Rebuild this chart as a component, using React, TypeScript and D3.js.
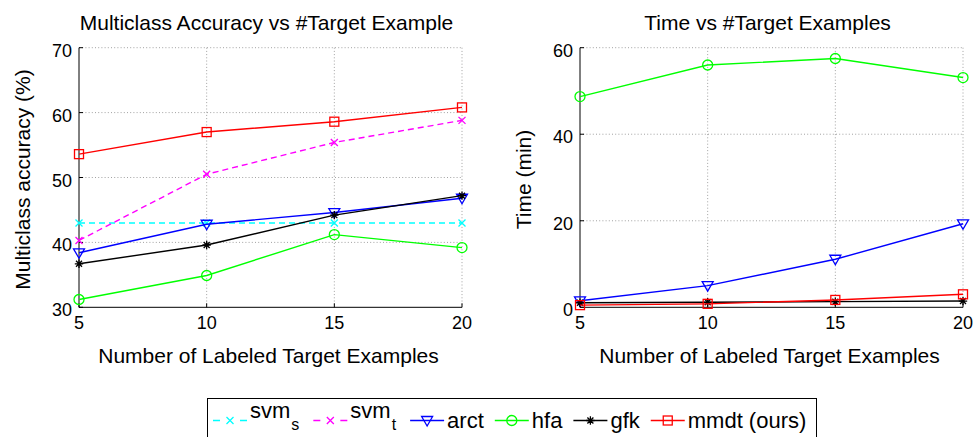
import React, { useRef, useEffect } from 'react';
import * as d3 from 'd3';

// number of labeled target examples
const targetCounts = [5, 10, 15, 20];

// multiclass accuracy (%)
const accSvmS = [43.0, 43.0, 43.0, 43.0];
const accSvmT = [40.3, 50.5, 55.4, 58.8];
const accArct = [38.4, 42.8, 44.6, 46.8];
const accHfa = [31.2, 34.9, 41.2, 39.2];
const accGfk = [36.7, 39.6, 44.2, 47.2];
const accMmdt = [53.6, 57.0, 58.6, 60.8];

// time (min)
const timeArct = [1.5, 5.0, 11.1, 19.3];
const timeHfa = [48.7, 56.0, 57.5, 53.1];
const timeGfk = [1.05, 1.15, 1.3, 1.45];
const timeMmdt = [0.5, 0.8, 1.7, 3.0];

const accTicks = [30, 40, 50, 60, 70];
const timeTicks = [0, 20, 40, 60];

const FONT = '"Liberation Sans", Arial, Helvetica, sans-serif';

type Marker = 'x' | 'tri' | 'circle' | 'star' | 'square';

const seriesStyle: Record<string, { color: string; dash: string | null; marker: Marker }> = {
    svm_s: { color: '#00ffff', dash: '6,4', marker: 'x' },
    svm_t: { color: '#ff00ff', dash: '6,4', marker: 'x' },
    arct: { color: '#0000ff', dash: null, marker: 'tri' },
    hfa: { color: '#00ff00', dash: null, marker: 'circle' },
    gfk: { color: '#000000', dash: null, marker: 'star' },
    mmdt: { color: '#ff0000', dash: null, marker: 'square' },
};

const legendItems = [
    { key: 'svm_s', label: 'svm', sub: 's' },
    { key: 'svm_t', label: 'svm', sub: 't' },
    { key: 'arct', label: 'arct', sub: '' },
    { key: 'hfa', label: 'hfa', sub: '' },
    { key: 'gfk', label: 'gfk', sub: '' },
    { key: 'mmdt', label: 'mmdt (ours)', sub: '' },
];

function drawMarker(g: any, type: Marker, x: number, y: number, color: string) {
    const m = g.append('g').attr('stroke', color).attr('fill', 'none').attr('stroke-width', 1.3);
    if (type === 'x') {
        m.append('path').attr('d', `M${x - 3.5},${y - 3.5}L${x + 3.5},${y + 3.5}M${x - 3.5},${y + 3.5}L${x + 3.5},${y - 3.5}`);
    } else if (type === 'tri') {
        m.append('path').attr('d', `M${x - 5.5},${y - 4}L${x + 5.5},${y - 4}L${x},${y + 5.5}Z`);
    } else if (type === 'circle') {
        m.append('circle').attr('cx', x).attr('cy', y).attr('r', 5);
    } else if (type === 'star') {
        const r = 4.2, d = 3;
        m.append('path').attr('d', `M${x - r},${y}L${x + r},${y}M${x},${y - r}L${x},${y + r}M${x - d},${y - d}L${x + d},${y + d}M${x - d},${y + d}L${x + d},${y - d}`);
    } else {
        m.append('rect').attr('x', x - 4.5).attr('y', y - 4.5).attr('width', 9).attr('height', 9);
    }
}

export default function App() {
    const svgRef = useRef<SVGSVGElement | null>(null);

    useEffect(() => {
        document.body.style.margin = '0';
        const svg = d3.select(svgRef.current);
        svg.selectAll('*').remove();

        const panels = [
            {
                left: 79, right: 462, top: 47.7, bottom: 307.3,
                domain: [30, 70], ticks: accTicks,
                title: 'Multiclass Accuracy vs #Target Example',
                ylabel: 'Multiclass accuracy (%)',
                series: [
                    { key: 'svm_s', values: accSvmS },
                    { key: 'svm_t', values: accSvmT },
                    { key: 'arct', values: accArct },
                    { key: 'hfa', values: accHfa },
                    { key: 'gfk', values: accGfk },
                    { key: 'mmdt', values: accMmdt },
                ],
            },
            {
                left: 580, right: 963, top: 47.7, bottom: 307.3,
                domain: [0, 60], ticks: timeTicks,
                title: 'Time vs #Target Examples',
                ylabel: 'Time (min)',
                series: [
                    { key: 'arct', values: timeArct },
                    { key: 'hfa', values: timeHfa },
                    { key: 'gfk', values: timeGfk },
                    { key: 'mmdt', values: timeMmdt },
                ],
            },
        ];

        panels.forEach(p => {
            const x = d3.scaleLinear().domain([5, 20]).range([p.left, p.right]);
            const y = d3.scaleLinear().domain(p.domain).range([p.bottom, p.top]);
            const g = svg.append('g');
            const cx = (p.left + p.right) / 2;

            // grid
            g.append('g').selectAll('line.gx').data(targetCounts.slice(1)).join('line')
                .attr('x1', d => x(d)).attr('x2', d => x(d))
                .attr('y1', p.top).attr('y2', p.bottom)
                .attr('stroke', '#8a8a8a').attr('stroke-width', 0.8).attr('stroke-dasharray', '1,2.2');
            g.append('g').selectAll('line.gy').data(p.ticks.slice(1)).join('line')
                .attr('x1', p.left).attr('x2', p.right)
                .attr('y1', d => y(d)).attr('y2', d => y(d))
                .attr('stroke', '#8a8a8a').attr('stroke-width', 0.8).attr('stroke-dasharray', '1,2.2');

            // axes
            g.append('line').attr('x1', p.left).attr('x2', p.left).attr('y1', p.top).attr('y2', p.bottom)
                .attr('stroke', '#000').attr('stroke-width', 1);
            g.append('line').attr('x1', p.left).attr('x2', p.right).attr('y1', p.bottom).attr('y2', p.bottom)
                .attr('stroke', '#000').attr('stroke-width', 1);
            g.append('g').selectAll('line').data(targetCounts).join('line')
                .attr('x1', d => x(d)).attr('x2', d => x(d)).attr('y1', p.bottom).attr('y2', p.bottom - 4)
                .attr('stroke', '#000');
            g.append('g').selectAll('line').data(p.ticks).join('line')
                .attr('x1', p.left).attr('x2', p.left + 4).attr('y1', d => y(d)).attr('y2', d => y(d))
                .attr('stroke', '#000');

            // tick labels
            g.append('g').selectAll('text').data(targetCounts).join('text')
                .attr('x', d => x(d)).attr('y', p.bottom + 22)
                .attr('text-anchor', 'middle').attr('font-size', 18).attr('font-family', FONT)
                .text(d => d);
            g.append('g').selectAll('text').data(p.ticks).join('text')
                .attr('x', p.left - 7).attr('y', d => y(d) + 9)
                .attr('text-anchor', 'end').attr('font-size', 18).attr('font-family', FONT)
                .text(d => d);

            // titles and labels
            g.append('text').attr('x', cx - 4).attr('y', 29.5).attr('text-anchor', 'middle')
                .attr('font-size', 21).attr('font-family', FONT).text(p.title);
            g.append('text').attr('x', cx - 2).attr('y', 363).attr('text-anchor', 'middle')
                .attr('font-size', 21).attr('font-family', FONT).text('Number of Labeled Target Examples');
            g.append('text')
                .attr('transform', `translate(${p.left - 49},${(p.top + p.bottom) / 2 + 2}) rotate(-90)`)
                .attr('text-anchor', 'middle').attr('font-size', 21).attr('font-family', FONT).text(p.ylabel);

            // series
            const line = d3.line<number>().x((d, i) => x(targetCounts[i])).y(d => y(d));
            p.series.forEach(s => {
                const st = seriesStyle[s.key];
                g.append('path').attr('d', line(s.values))
                    .attr('fill', 'none').attr('stroke', st.color).attr('stroke-width', 1.4)
                    .attr('stroke-dasharray', st.dash);
                s.values.forEach((v, i) => drawMarker(g, st.marker, x(targetCounts[i]), y(v), st.color));
            });
        });

        // legend
        const lg = svg.append('g');
        lg.append('rect').attr('x', 207.5).attr('y', 398.5).attr('width', 609).attr('height', 50)
            .attr('fill', '#fff').attr('stroke', '#000').attr('stroke-width', 1);
        let lx = 213;
        const ly = 420.5;
        legendItems.forEach(item => {
            const st = seriesStyle[item.key];
            lg.append('line').attr('x1', lx).attr('x2', lx + 34).attr('y1', ly).attr('y2', ly)
                .attr('stroke', st.color).attr('stroke-width', 1.4)
                .attr('stroke-dasharray', st.dash ? '7,20' : null);
            drawMarker(lg, st.marker, lx + 17, ly, st.color);
            const tx = lx + 37;
            const t = lg.append('text').attr('x', tx).attr('y', item.sub ? 418 : 428)
                .attr('font-size', 22).attr('font-family', FONT).text(item.label);
            let w = (t.node() as SVGTextElement).getComputedTextLength();
            if (item.sub) {
                const s = lg.append('text').attr('x', tx + w + 1).attr('y', 430)
                    .attr('font-size', 16).attr('font-family', FONT).text(item.sub);
                w += 1 + (s.node() as SVGTextElement).getComputedTextLength() + 3;
            }
            lx = tx + w + 11;
        });
    }, []);

    return <svg ref={svgRef} width={979} height={437} style={{ display: 'block', background: '#fff' }} />;
}
